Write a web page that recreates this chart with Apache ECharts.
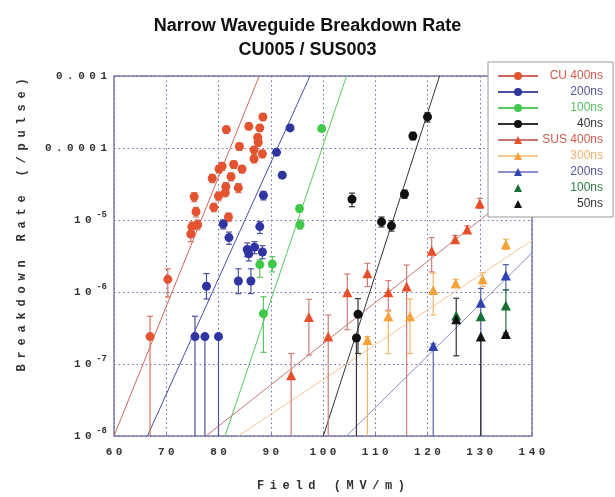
<!DOCTYPE html>
<html>
<head>
<meta charset="utf-8">
<title>Narrow Waveguide Breakdown Rate</title>
<script src="https://cdn.jsdelivr.net/npm/echarts@6/dist/echarts.min.js"></script>
<style>
  html, body { margin: 0; padding: 0; background: #fff; }
  #chart { width: 615px; height: 497px; }
</style>
</head>
<body>
<div id="chart"></div>
<script>
// ------------------------------
// data: [field, rate, lower error, upper error]
// lower error 0 = bar runs down to the axis floor
// ------------------------------
var cu400 = [
  [88.5, 2.7e-4, 2.4e-4, 3.0e-4], [81.5, 1.8e-4, 1.6e-4, 2.0e-4], [85.8, 2.0e-4, 1.8e-4, 2.2e-4],
  [87.9, 1.9e-4, 1.7e-4, 2.1e-4], [87.5, 1.4e-4, 1.25e-4, 1.55e-4], [87.6, 1.2e-4, 1.05e-4, 1.35e-4],
  [84.0, 1.05e-4, 9.3e-5, 1.17e-4], [86.8, 9.4e-5, 8.3e-5, 1.05e-4], [88.4, 8.3e-5, 7.3e-5, 9.3e-5],
  [86.8, 7.1e-5, 6.2e-5, 8.0e-5], [80.7, 5.6e-5, 4.9e-5, 6.3e-5], [80.1, 5.1e-5, 4.5e-5, 5.7e-5],
  [82.9, 5.9e-5, 5.2e-5, 6.6e-5], [84.5, 5.1e-5, 4.5e-5, 5.7e-5], [78.8, 3.8e-5, 3.3e-5, 4.3e-5],
  [82.4, 4.0e-5, 3.5e-5, 4.5e-5], [81.4, 2.9e-5, 2.5e-5, 3.3e-5], [83.8, 2.8e-5, 2.4e-5, 3.2e-5],
  [81.3, 2.4e-5, 2.1e-5, 2.7e-5], [80.0, 2.15e-5, 1.85e-5, 2.45e-5], [75.35, 2.1e-5, 1.8e-5, 2.4e-5],
  [79.1, 1.5e-5, 1.3e-5, 1.7e-5], [75.7, 1.3e-5, 1.1e-5, 1.5e-5], [81.9, 1.1e-5, 9.5e-6, 1.25e-5],
  [76.0, 8.6e-6, 7.3e-6, 1.0e-5], [74.9, 8.1e-6, 6.9e-6, 9.4e-6], [74.7, 6.4e-6, 5.0e-6, 7.6e-6],
  [70.3, 1.5e-6, 8.5e-7, 2.1e-6], [66.9, 2.4e-7, 0, 4.6e-7]
];
var cu200 = [
  [93.7, 1.9e-4, 1.75e-4, 2.05e-4], [91.1, 8.7e-5, 8.0e-5, 9.5e-5], [92.2, 4.2e-5, 3.8e-5, 4.6e-5],
  [88.6, 2.2e-5, 1.9e-5, 2.5e-5], [80.9, 8.8e-6, 7.5e-6, 1.0e-5], [87.9, 8.1e-6, 6.5e-6, 9.5e-6],
  [82.0, 5.7e-6, 4.6e-6, 6.8e-6], [85.5, 3.9e-6, 3.1e-6, 4.8e-6], [85.8, 3.4e-6, 2.7e-6, 4.2e-6],
  [86.9, 4.2e-6, 3.4e-6, 5.0e-6], [88.4, 3.6e-6, 2.9e-6, 4.4e-6], [83.8, 1.42e-6, 9.5e-7, 2.1e-6],
  [86.2, 1.42e-6, 9.5e-7, 2.1e-6], [77.7, 1.2e-6, 8.0e-7, 1.8e-6], [75.5, 2.4e-7, 0, 4.6e-7],
  [77.4, 2.4e-7, 0, 2.4e-7], [80.0, 2.4e-7, 0, 2.4e-7]
];
var cu100 = [
  [99.75, 1.86e-4, 1.75e-4, 1.98e-4], [95.5, 1.44e-5, 1.3e-5, 1.6e-5], [95.6, 8.6e-6, 7.5e-6, 1.0e-5],
  [87.9, 2.4e-6, 1.6e-6, 2.8e-6], [90.3, 2.45e-6, 1.9e-6, 3.1e-6], [88.6, 5.0e-7, 1.45e-7, 8.6e-7]
];
var cu40 = [
  [120.0, 2.7e-4, 2.3e-4, 3.1e-4], [117.2, 1.47e-4, 1.3e-4, 1.65e-4], [115.6, 2.3e-5, 2.0e-5, 2.6e-5],
  [105.55, 1.94e-5, 1.53e-5, 2.36e-5], [111.2, 9.4e-6, 8.0e-6, 1.1e-5], [113.1, 8.3e-6, 7.0e-6, 9.8e-6],
  [106.7, 4.9e-7, 1.4e-7, 8.1e-7], [106.4, 2.3e-7, 0, 2.3e-7]
];
var sus400 = [
  [93.9, 7.0e-8, 0, 1.4e-7], [97.3, 4.5e-7, 1.33e-7, 7.9e-7], [101.0, 2.4e-7, 0, 4.8e-7],
  [104.65, 9.9e-7, 3.0e-7, 1.78e-6], [108.5, 1.82e-6, 1.19e-6, 2.5e-6], [112.5, 9.9e-7, 5.6e-7, 1.44e-6],
  [116.0, 1.19e-6, 0, 2.37e-6], [120.8, 3.75e-6, 1.9e-6, 5.7e-6], [125.3, 5.4e-6, 4.8e-6, 6.1e-6],
  [127.6, 7.4e-6, 6.6e-6, 8.3e-6], [130.0, 1.7e-5, 1.45e-5, 2.0e-5]
];
var sus300 = [
  [108.5, 2.15e-7, 0, 2.4e-7], [112.5, 4.6e-7, 1.39e-7, 5.4e-7], [116.65, 4.6e-7, 1.4e-7, 8.0e-7],
  [121.1, 1.07e-6, 4.8e-7, 1.82e-6], [125.4, 1.32e-6, 1.15e-6, 1.5e-6], [130.55, 1.5e-6, 1.2e-6, 1.85e-6],
  [135.0, 4.6e-6, 3.9e-6, 5.4e-6]
];
var sus200 = [
  [121.1, 1.78e-7, 0, 1.9e-7], [130.2, 7.1e-7, 0, 1.12e-6], [135.0, 1.7e-6, 1.07e-6, 2.4e-6]
];
var sus100 = [
  [125.5, 4.7e-7, 4.7e-7, 4.7e-7], [130.2, 4.6e-7, 4.6e-7, 4.6e-7], [135.0, 6.5e-7, 2.7e-7, 1.07e-6]
];
var sus50 = [
  [125.5, 4.2e-7, 1.3e-7, 8.2e-7], [130.2, 2.4e-7, 0, 2.4e-7], [135.0, 2.6e-7, 2.6e-7, 2.6e-7]
];

// exponential fits, two end points each (field, rate)
var cu400Fit = [[60, 1e-8], [87.8, 1e-3]];
var cu200Fit = [[66.4, 1e-8], [97.5, 1e-3]];
var cu100Fit = [[81.25, 1e-8], [104.5, 1e-3]];
var cu40Fit = [[100.06, 1e-8], [122.3, 1e-3]];
var sus400Fit = [[77.6, 1e-8], [140, 3.7e-5]];
var sus300Fit = [[83.8, 1e-8], [140, 5.2e-6]];
var sus200Fit = [[104.5, 1e-8], [140, 3.5e-6]];

var xMin = 60, xMax = 140, xStep = 10;
var yMin = 1e-8, yMax = 1e-3;

var groups = [
  { name: 'CU 400ns', label: 'CU 400ns', pts: cu400, fit: cu400Fit, symbol: 'circle', size: 9,
    color: '#e4532f', line: '#d2665c', err: '#d9735f', text: '#cf5b4d' },
  { name: 'CU 200ns', label: '200ns', pts: cu200, fit: cu200Fit, symbol: 'circle', size: 9,
    color: '#2f34a0', line: '#4a4ea6', err: '#4d51a3', text: '#55559a' },
  { name: 'CU 100ns', label: '100ns', pts: cu100, fit: cu100Fit, symbol: 'circle', size: 9,
    color: '#3fc84a', line: '#58c860', err: '#5cc463', text: '#55c060' },
  { name: 'CU 40ns', label: '40ns', pts: cu40, fit: cu40Fit, symbol: 'circle', size: 9,
    color: '#111111', line: '#333333', err: '#333333', text: '#333333' },
  { name: 'SUS 400ns', label: 'SUS 400ns', pts: sus400, fit: sus400Fit, symbol: 'triangle', size: 10,
    color: '#e5502a', line: '#c97474', err: '#d47b78', text: '#cf5b4d' },
  { name: 'SUS 300ns', label: '300ns', pts: sus300, fit: sus300Fit, symbol: 'triangle', size: 10,
    color: '#f4a43a', line: '#f3c794', err: '#f2b566', text: '#f0b070' },
  { name: 'SUS 200ns', label: '200ns', pts: sus200, fit: sus200Fit, symbol: 'triangle', size: 10,
    color: '#3142b0', line: '#8a8ccc', err: '#5060b0', text: '#55559a' },
  { name: 'SUS 100ns', label: '100ns', pts: sus100, fit: null, symbol: 'triangle', size: 10,
    color: '#157035', line: '#157035', err: '#207040', text: '#2e7a45' },
  { name: 'SUS 50ns', label: '50ns', pts: sus50, fit: null, symbol: 'triangle', size: 10,
    color: '#111111', line: '#111111', err: '#333333', text: '#333333' }
];

var chart = echarts.init(document.getElementById('chart'));
var monoFont = '"Liberation Mono", "DejaVu Sans Mono", monospace';

// join characters with a narrow spacer token, the axis text is letter-spaced
function spread(s, tok) {
  return s.split('').join('{' + tok + '| }');
}

function errorBars(color) {
  return function (params, api) {
    var x = api.value(0), lo = api.value(2), hi = api.value(3), y = api.value(1);
    if (lo === y && hi === y) return null;
    var cs = params.coordSys;
    var top = cs.y, bottom = cs.y + cs.height;
    var pHi = api.coord([x, hi]);
    var px = pHi[0];
    var yHi = Math.max(pHi[1], top);
    var yLo = lo > 0 ? Math.min(api.coord([x, lo])[1], bottom) : bottom;
    var st = { stroke: color, lineWidth: 1.2 };
    var kids = [{ type: 'line', shape: { x1: px, y1: yLo, x2: px, y2: yHi }, style: st }];
    if (hi > y) kids.push({ type: 'line', shape: { x1: px - 3, y1: yHi, x2: px + 3, y2: yHi }, style: st });
    if (lo > 0 && lo < y) kids.push({ type: 'line', shape: { x1: px - 3, y1: yLo, x2: px + 3, y2: yLo }, style: st });
    return { type: 'group', children: kids };
  };
}

var series = [];
var labelOf = {};
groups.forEach(function (g) {
  labelOf[g.name] = g.label;
  // first series of each name gives the legend icon: line + marker,
  // groups without a fit get an empty line series with a hidden line
  series.push({
    name: g.name, type: 'line', data: g.fit || [], showSymbol: false, symbol: g.symbol,
    itemStyle: { color: g.color },
    lineStyle: { color: g.line, width: 1, opacity: g.fit ? 1 : 0 },
    clip: true, silent: true, z: 1
  });
  series.push({
    name: g.name, type: 'scatter', symbol: g.symbol, symbolSize: g.size,
    data: g.pts.map(function (p) { return [p[0], p[1]]; }),
    itemStyle: { color: g.color, opacity: 1 }, z: 4
  });
  series.push({
    name: g.name, type: 'custom', renderItem: errorBars(g.err),
    data: g.pts, encode: { x: 0, y: 1 }, silent: true, z: 3
  });
});

var option = {
  animation: false,
  backgroundColor: '#ffffff',
  title: {
    text: 'Narrow Waveguide Breakdown Rate\nCU005 / SUS003',
    left: 'center', top: 9,
    textStyle: {
      fontFamily: '"Liberation Sans", Arial, sans-serif', fontSize: 18, fontWeight: 'bold',
      color: '#111', lineHeight: 24
    }
  },
  legend: {
    orient: 'vertical', left: 488, top: 62,
    padding: [7, 10, 6, 9], itemGap: 2, itemWidth: 40, itemHeight: 10,
    backgroundColor: '#ffffff', borderColor: '#999999', borderWidth: 1,
    data: groups.map(function (g) { return { name: g.name, textStyle: { color: g.text } }; }),
    formatter: function (name) { return '{t|' + labelOf[name] + '}'; },
    textStyle: {
      fontFamily: '"Liberation Sans", Arial, sans-serif', fontSize: 12, lineHeight: 14,
      rich: { t: { width: 60, align: 'right', fontSize: 12, lineHeight: 14 } }
    },
    selectedMode: false
  },
  grid: { left: 114, right: 83, top: 76, bottom: 61, show: true, borderColor: '#7b7bb0', borderWidth: 1.5, outerBoundsMode: 'none' },
  xAxis: {
    type: 'value', min: xMin, max: xMax, interval: xStep,
    name: spread('Field (MV/m)', 'g'), nameLocation: 'middle', nameGap: 44,
    nameTextStyle: {
      fontFamily: monoFont, fontSize: 12, fontWeight: 'bold', color: '#333',
      padding: [0, 0, 0, 16], rich: { g: { width: 5.6 } }
    },
    axisLine: { show: false },
    axisTick: { inside: true, length: 4, lineStyle: { color: '#7b7bb0' } },
    axisLabel: {
      margin: 11, color: '#333', fontFamily: monoFont, fontSize: 11, fontWeight: 'bold',
      formatter: function (v) { return spread(String(v), 'g'); },
      rich: { g: { width: 3.5 } }
    },
    splitLine: { lineStyle: { color: '#6f6fa6', type: [1.5, 3], width: 1 } }
  },
  yAxis: {
    type: 'log', logBase: 10, min: yMin, max: yMax,
    name: spread('Breakdown Rate (/pulse)', 'g'), nameLocation: 'middle', nameGap: 86,
    nameTextStyle: {
      fontFamily: monoFont, fontSize: 12, fontWeight: 'bold', color: '#333',
      padding: [0, 0, 0, 62], rich: { g: { width: 5.8 } }
    },
    axisLine: { show: false },
    axisTick: { show: false },
    axisLabel: {
      margin: 7, color: '#333', fontFamily: monoFont, fontSize: 11, fontWeight: 'bold', lineHeight: 20,
      formatter: function (v) {
        var e = Math.round(Math.log10(v));
        if (e === -3) return spread('0.001', 'g');
        if (e === -4) return spread('0.0001', 'g');
        return spread('10', 'g') + '{g| }{s|' + e + '}';
      },
      rich: {
        g: { width: 4.5 },
        s: { fontFamily: monoFont, fontSize: 9, fontWeight: 'bold', verticalAlign: 'top', lineHeight: 10, color: '#333' }
      }
    },
    splitLine: { lineStyle: { color: '#6f6fa6', type: [1.5, 3], width: 1 } }
  },
  series: series
};

chart.setOption(option);
</script>
</body>
</html>
